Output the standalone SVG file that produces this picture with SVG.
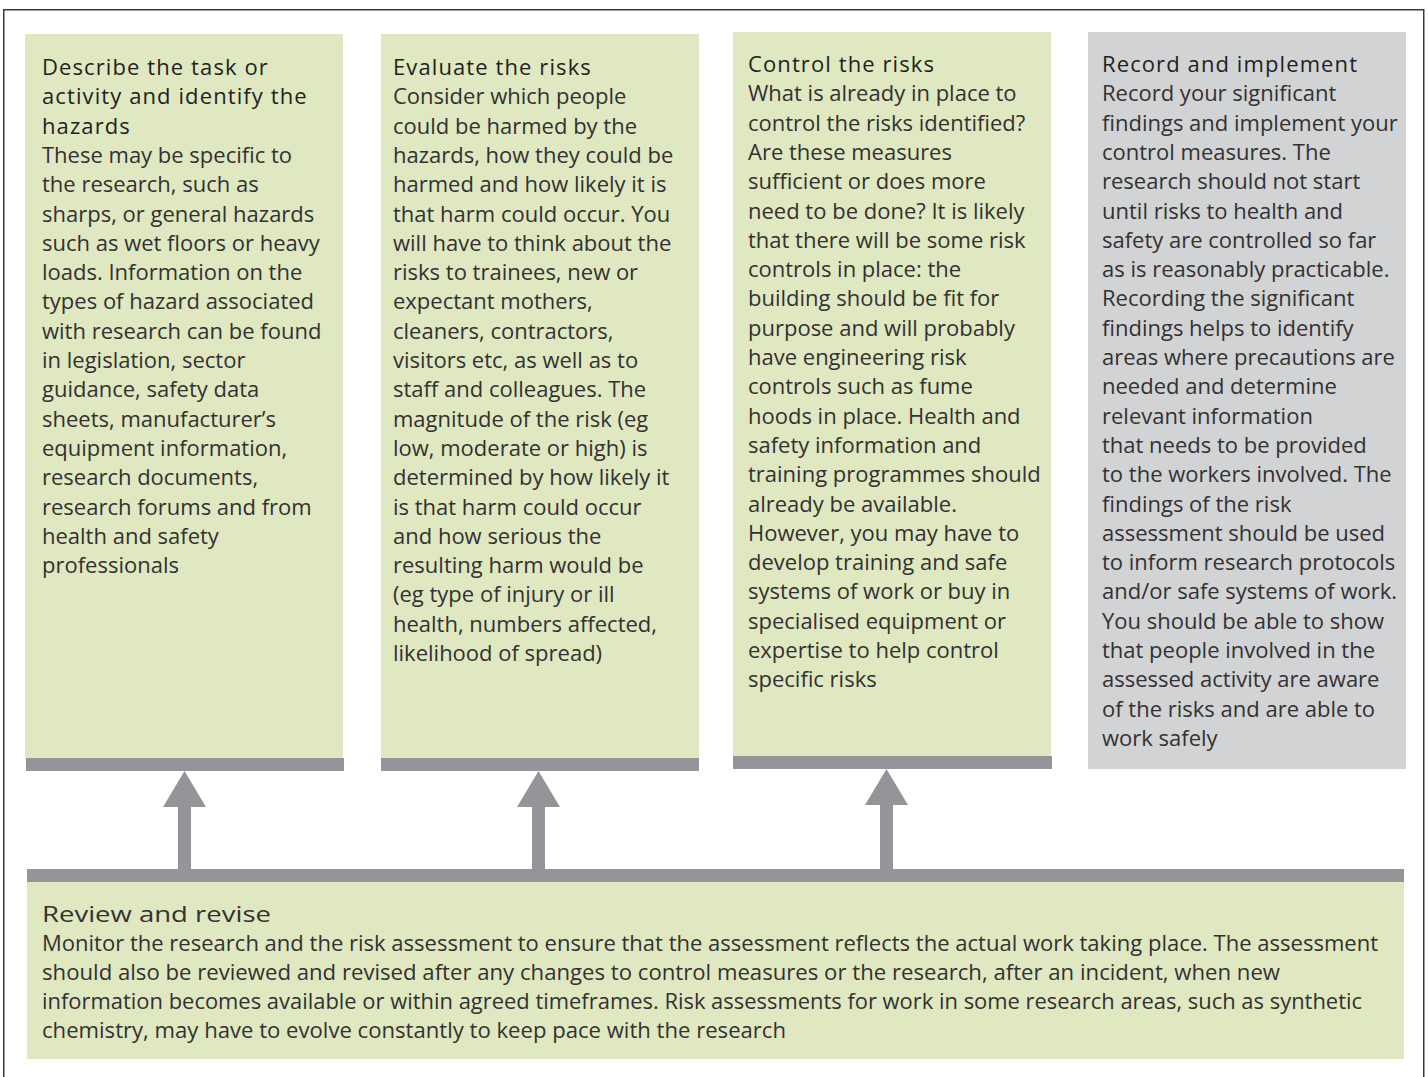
<svg xmlns="http://www.w3.org/2000/svg" width="1428" height="1077" viewBox="0 0 1428 1077">
<style>
.green{fill:#dfe8c0}
.grey{fill:#d1d3d4}
.bar{fill:#939598}
.t{font-family:"Open Sans","Noto Sans","Liberation Sans",sans-serif;font-size:22px;fill:#333132}
.h{fill:#231f20;font-weight:500;letter-spacing:1.1px}
.b{fill:#333132}
.rv{font-family:"Open Sans","Noto Sans","Liberation Sans",sans-serif;font-size:22px;fill:#333132}
</style>
<rect x="0" y="0" width="1428" height="1077" fill="#ffffff"/>
<rect x="3.75" y="9.75" width="1420" height="1090" fill="none" stroke="#3a3a3a" stroke-width="1.5"/>

<g id="node-describe">
<rect class="green" x="25" y="34" width="318" height="724"/>
<rect class="bar" x="26" y="758" width="318" height="13"/>
<text class="t">
<tspan class="h" x="42" y="75">Describe the task or</tspan>
<tspan class="h" x="42" y="104.3">activity and identify the</tspan>
<tspan class="h" x="42" y="133.6">hazards</tspan>
<tspan class="b" x="42" y="162.9">These may be specific to</tspan>
<tspan class="b" x="42" y="192.2">the research, such as</tspan>
<tspan class="b" x="42" y="221.5">sharps, or general hazards</tspan>
<tspan class="b" x="42" y="250.8">such as wet floors or heavy</tspan>
<tspan class="b" x="42" y="280.1">loads. Information on the</tspan>
<tspan class="b" x="42" y="309.4">types of hazard associated</tspan>
<tspan class="b" x="42" y="338.7">with research can be found</tspan>
<tspan class="b" x="42" y="368">in legislation, sector</tspan>
<tspan class="b" x="42" y="397.3">guidance, safety data</tspan>
<tspan class="b" x="42" y="426.6">sheets, manufacturer’s</tspan>
<tspan class="b" x="42" y="455.9">equipment information,</tspan>
<tspan class="b" x="42" y="485.2">research documents,</tspan>
<tspan class="b" x="42" y="514.5">research forums and from</tspan>
<tspan class="b" x="42" y="543.8">health and safety</tspan>
<tspan class="b" x="42" y="573.1">professionals</tspan>
</text>
</g>

<g id="node-evaluate">
<rect class="green" x="381" y="34" width="318" height="724"/>
<rect class="bar" x="381" y="758" width="318" height="13"/>
<text class="t">
<tspan class="h" x="393" y="75">Evaluate the risks</tspan>
<tspan class="b" x="393" y="104.3">Consider which people</tspan>
<tspan class="b" x="393" y="133.6">could be harmed by the</tspan>
<tspan class="b" x="393" y="162.9">hazards, how they could be</tspan>
<tspan class="b" x="393" y="192.2">harmed and how likely it is</tspan>
<tspan class="b" x="393" y="221.5">that harm could occur. You</tspan>
<tspan class="b" x="393" y="250.8">will have to think about the</tspan>
<tspan class="b" x="393" y="280.1">risks to trainees, new or</tspan>
<tspan class="b" x="393" y="309.4">expectant mothers,</tspan>
<tspan class="b" x="393" y="338.7">cleaners, contractors,</tspan>
<tspan class="b" x="393" y="368">visitors etc, as well as to</tspan>
<tspan class="b" x="393" y="397.3">staff and colleagues. The</tspan>
<tspan class="b" x="393" y="426.6">magnitude of the risk (eg</tspan>
<tspan class="b" x="393" y="455.9">low, moderate or high) is</tspan>
<tspan class="b" x="393" y="485.2">determined by how likely it</tspan>
<tspan class="b" x="393" y="514.5">is that harm could occur</tspan>
<tspan class="b" x="393" y="543.8">and how serious the</tspan>
<tspan class="b" x="393" y="573.1">resulting harm would be</tspan>
<tspan class="b" x="393" y="602.4">(eg type of injury or ill</tspan>
<tspan class="b" x="393" y="631.7">health, numbers affected,</tspan>
<tspan class="b" x="393" y="661">likelihood of spread)</tspan>
</text>
</g>

<g id="node-control">
<rect class="green" x="733" y="32" width="318" height="724"/>
<rect class="bar" x="733" y="756" width="319" height="13"/>
<text class="t">
<tspan class="h" x="748" y="72">Control the risks</tspan>
<tspan class="b" x="748" y="101.3">What is already in place to</tspan>
<tspan class="b" x="748" y="130.6">control the risks identified?</tspan>
<tspan class="b" x="748" y="159.9">Are these measures</tspan>
<tspan class="b" x="748" y="189.2">sufficient or does more</tspan>
<tspan class="b" x="748" y="218.5">need to be done? It is likely</tspan>
<tspan class="b" x="748" y="247.8">that there will be some risk</tspan>
<tspan class="b" x="748" y="277.1">controls in place: the</tspan>
<tspan class="b" x="748" y="306.4">building should be fit for</tspan>
<tspan class="b" x="748" y="335.7">purpose and will probably</tspan>
<tspan class="b" x="748" y="365">have engineering risk</tspan>
<tspan class="b" x="748" y="394.3">controls such as fume</tspan>
<tspan class="b" x="748" y="423.6">hoods in place. Health and</tspan>
<tspan class="b" x="748" y="452.9">safety information and</tspan>
<tspan class="b" x="748" y="482.2">training programmes should</tspan>
<tspan class="b" x="748" y="511.5">already be available.</tspan>
<tspan class="b" x="748" y="540.8">However, you may have to</tspan>
<tspan class="b" x="748" y="570.1">develop training and safe</tspan>
<tspan class="b" x="748" y="599.4">systems of work or buy in</tspan>
<tspan class="b" x="748" y="628.7">specialised equipment or</tspan>
<tspan class="b" x="748" y="658">expertise to help control</tspan>
<tspan class="b" x="748" y="687.3">specific risks</tspan>
</text>
</g>

<g id="node-record">
<rect class="grey" x="1088" y="32" width="318" height="737"/>
<text class="t">
<tspan class="h" x="1102" y="72">Record and implement</tspan>
<tspan class="b" x="1102" y="101.3">Record your significant</tspan>
<tspan class="b" x="1102" y="130.6">findings and implement your</tspan>
<tspan class="b" x="1102" y="159.9">control measures. The</tspan>
<tspan class="b" x="1102" y="189.2">research should not start</tspan>
<tspan class="b" x="1102" y="218.5">until risks to health and</tspan>
<tspan class="b" x="1102" y="247.8">safety are controlled so far</tspan>
<tspan class="b" x="1102" y="277.1">as is reasonably practicable.</tspan>
<tspan class="b" x="1102" y="306.4">Recording the significant</tspan>
<tspan class="b" x="1102" y="335.7">findings helps to identify</tspan>
<tspan class="b" x="1102" y="365">areas where precautions are</tspan>
<tspan class="b" x="1102" y="394.3">needed and determine</tspan>
<tspan class="b" x="1102" y="423.6">relevant information</tspan>
<tspan class="b" x="1102" y="452.9">that needs to be provided</tspan>
<tspan class="b" x="1102" y="482.2">to the workers involved. The</tspan>
<tspan class="b" x="1102" y="511.5">findings of the risk</tspan>
<tspan class="b" x="1102" y="540.8">assessment should be used</tspan>
<tspan class="b" x="1102" y="570.1">to inform research protocols</tspan>
<tspan class="b" x="1102" y="599.4">and/or safe systems of work.</tspan>
<tspan class="b" x="1102" y="628.7">You should be able to show</tspan>
<tspan class="b" x="1102" y="658">that people involved in the</tspan>
<tspan class="b" x="1102" y="687.3">assessed activity are aware</tspan>
<tspan class="b" x="1102" y="716.6">of the risks and are able to</tspan>
<tspan class="b" x="1102" y="745.9">work safely</tspan>
</text>
</g>

<g id="node-review">
<rect class="bar" x="27" y="869" width="1377" height="13"/>
<rect class="green" x="27" y="882" width="1377" height="177"/>
<text class="rv" x="42" y="922" textLength="229" lengthAdjust="spacingAndGlyphs" fill="#231f20" font-weight="500">Review and revise</text>
<text class="rv" x="42" y="951" textLength="1336" lengthAdjust="spacingAndGlyphs">Monitor the research and the risk assessment to ensure that the assessment reflects the actual work taking place. The assessment</text>
<text class="rv" x="42" y="980" textLength="1238" lengthAdjust="spacingAndGlyphs">should also be reviewed and revised after any changes to control measures or the research, after an incident, when new</text>
<text class="rv" x="42" y="1009" textLength="1320" lengthAdjust="spacingAndGlyphs">information becomes available or within agreed timeframes. Risk assessments for work in some research areas, such as synthetic</text>
<text class="rv" x="42" y="1038" textLength="744" lengthAdjust="spacingAndGlyphs">chemistry, may have to evolve constantly to keep pace with the research</text>
</g>

<g id="connectors" fill="#939598">
<path d="M178 869 V807 H163 L184.5 771 L206 807 H191 V869 Z"/>
<path d="M532 869 V807 H517 L538.5 771 L560 807 H545 V869 Z"/>
<path d="M880 869 V805 H865 L886.5 769 L908 805 H893 V869 Z"/>
</g>
</svg>
